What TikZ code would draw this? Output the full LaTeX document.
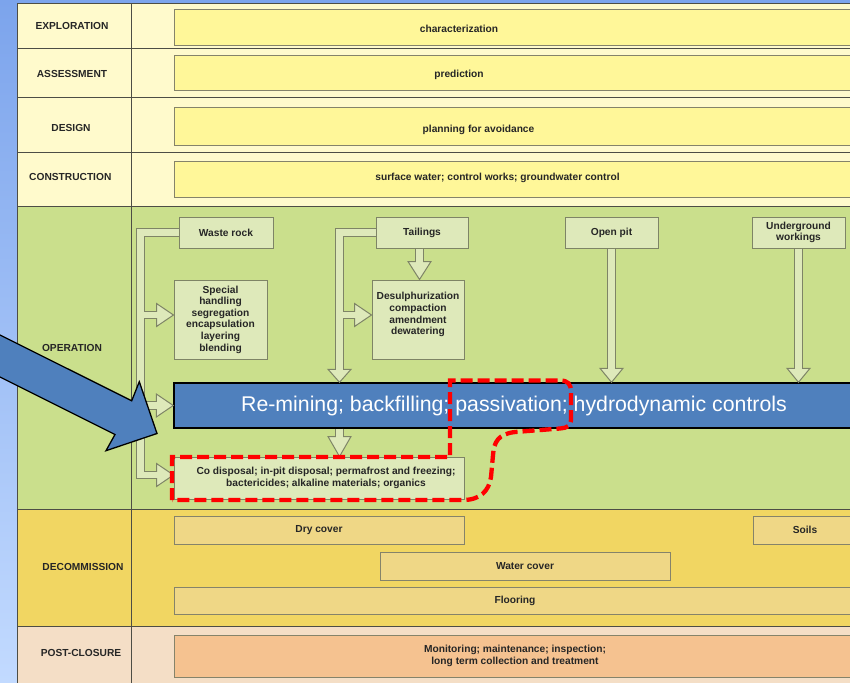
\documentclass[tikz,border=0pt]{standalone}
\usepackage{fontspec}
\setmainfont{Liberation Sans}
\usetikzlibrary{calc}

\definecolor{bgtop}{HTML}{7CA4EC}
\definecolor{bgbot}{HTML}{C2DAFF}
\definecolor{gridc}{HTML}{4D4D45}
\definecolor{rowy}{HTML}{FFFACC}
\definecolor{boxy}{HTML}{FFF799}
\definecolor{boxyline}{HTML}{85836A}
\definecolor{rowg}{HTML}{CADF8C}
\definecolor{boxg}{HTML}{DEE9BA}
\definecolor{boxgline}{HTML}{7E8466}
\definecolor{rowd}{HTML}{F1D662}
\definecolor{boxd}{HTML}{EFD786}
\definecolor{rowp}{HTML}{F4DEC6}
\definecolor{boxp}{HTML}{F5C290}
\definecolor{barblue}{HTML}{4F80BD}
\definecolor{txt}{HTML}{262626}

\tikzset{
  lbl/.style={font=\bfseries\fontsize{10.2}{12}\selectfont, text=txt, inner sep=0},
  boxtext/.style={font=\bfseries\fontsize{10.2}{11.6}\selectfont, text=txt, inner sep=0, align=center},
  boxbase/.style={draw, line width=1pt, inner sep=0, align=center, text=txt,
    font=\bfseries\fontsize{10.2}{11.6}\selectfont},
  ybox/.style={boxbase, fill=boxy, draw=boxyline},
  gbox/.style={boxbase, fill=boxg, draw=boxgline},
  dbox/.style={boxbase, fill=boxd, draw=boxyline},
  pbox/.style={boxbase, fill=boxp, draw=boxyline},
  barbox/.style={draw=black, line width=1.4pt, fill=barblue, text=white, inner sep=0,
    font=\fontsize{21.3}{25}\selectfont},
  ahead/.style={fill=boxg, draw=boxgline, line width=1pt, line join=miter},
  shaftline/.style={draw=boxgline, line width=8.6pt},
  shaftfill/.style={draw=boxg, line width=6.6pt},
  bigarrow/.style={fill=barblue, draw=black, line width=1.3pt, line join=miter},
  reddash/.style={draw=red, line width=4.3pt, dash pattern=on 12pt off 5pt},
}

% block arrow heads: tip position, pointing right / down
\newcommand{\rightheadat}[1]{\filldraw[ahead] ($(#1)+(-17,-11.5)$) -- (#1) -- ($(#1)+(-17,11.5)$) -- cycle;}
\newcommand{\downheadat}[2]{\filldraw[ahead] ($(#1)+(-11.5,-#2)$) -- (#1) -- ($(#1)+(11.5,-#2)$) -- cycle;}

\begin{document}
\begin{tikzpicture}[x=1pt,y=-1pt]
\useasboundingbox (0,0) rectangle (850,682);
\clip (0,0) rectangle (850,682);
\shade[top color=bgtop, bottom color=bgbot] (0,0) rectangle (850,682);

% phase rows
\fill[rowy] (17,4) rectangle (870,206);
\fill[rowg] (17,206) rectangle (870,509);
\fill[rowd] (17,509) rectangle (870,626);
\fill[rowp] (17,626) rectangle (870,690);
\draw[gridc, line width=1pt]
  (17,690) -- (17,4) -- (870,4)
  (17,49) -- (870,49) (17,98) -- (870,98) (17,152) -- (870,152)
  (17,206) -- (870,206) (17,509) -- (870,509) (17,626) -- (870,626)
  (131,4) -- (131,690);

% phase labels
\node[lbl] (lexp) at (72,26) {EXPLORATION};
\node[lbl] (lass) at (72,74) {ASSESSMENT};
\node[lbl] (ldes) at (71,127.7) {DESIGN};
\node[lbl] (lcon) at (70.3,176.7) {CONSTRUCTION};
\node[lbl] (lop) at (72,348.3) {OPERATION};
\node[lbl] (ldec) at (83,567) {DECOMMISSION};
\node[lbl] (lpost) at (81,653) {POST-CLOSURE};

% early phases
\node[ybox, minimum width=682pt, minimum height=35.5pt] (expl) at (515,27.75) {};
\node[boxtext] (texpl) at (459,28.5) {characterization};
\node[ybox, minimum width=682pt, minimum height=35pt] (asse) at (515,73.5) {};
\node[boxtext] (tasse) at (459,74.5) {prediction};
\node[ybox, minimum width=682pt, minimum height=37pt] (desi) at (515,126.5) {};
\node[boxtext] (tdesi) at (478.5,129.5) {planning for avoidance};
\node[ybox, minimum width=682pt, minimum height=36pt] (cons) at (515,179) {};
\node[boxtext] (tcons) at (497.5,178) {surface water; control works; groundwater control};

% operation
\node[gbox, minimum width=94pt, minimum height=31pt] (waste) at (226,232.5) {Waste rock};
\node[gbox, minimum width=92pt, minimum height=31pt] (tail) at (422,232.5) {Tailings};
\node[gbox, minimum width=93pt, minimum height=31pt] (pit) at (611.5,232.5) {Open pit};
\node[gbox, minimum width=93pt, minimum height=31pt] (under) at (798.5,232.5) {Underground\\workings};
\node[gbox, minimum width=93pt, minimum height=79pt] (special) at (220.5,319.5)
  {Special\\handling\\segregation\\encapsulation\\layering\\blending};
\node[gbox, minimum width=92pt, minimum height=79pt] (desulph) at (418,319.5)
  {Desulphurization\\compaction\\amendment\\dewatering\\\mbox{}};
\node[barbox, minimum width=680pt, minimum height=45pt] (bar) at (514,405.5)
  {Re-mining; backfilling; passivation; hydrodynamic controls};
\node[gbox, minimum width=290pt, minimum height=42pt] (co) at (319,478)
  {\hspace*{14pt}Co disposal; in-pit disposal; permafrost and freezing;\\\hspace*{14pt}bactericides; alkaline materials; organics};

% decommission and post-closure
\node[dbox, minimum width=290pt, minimum height=28pt] (dry) at (319,530) {Dry cover};
\node[dbox, minimum width=104pt, minimum height=28pt] (soils) at (805,530) {Soils};
\node[dbox, minimum width=290pt, minimum height=28pt] (water) at (525,566) {Water cover};
\node[dbox, minimum width=682pt, minimum height=27pt] (floor) at (515,600.5) {Flooring};
\node[pbox, minimum width=682pt, minimum height=42pt] (post) at (515,656)
  {Monitoring; maintenance; inspection;\\long term collection and treatment};

% block arrows
\coordinate (wx) at (140.5,0);
\coordinate (tx) at (339.5,0);
\coordinate (dx) at (419.5,0);
\coordinate (sptip) at ([yshift=4.5pt]special.west);
\coordinate (dstip) at ([yshift=4.5pt]desulph.west);
\coordinate (cotip) at ([yshift=3pt]co.west);
\coordinate (bartip) at (bar.west);
\path (dx |- desulph.north) coordinate (h1);
\path (tx |- bar.north) coordinate (h2);
\path (tx |- co.north) coordinate (h3);
\path (pit.south |- bar.north) coordinate (h4);
\path (under.south |- bar.north) coordinate (h5);

\rightheadat{sptip}
\rightheadat{bartip}
\rightheadat{cotip}
\rightheadat{dstip}
\downheadat{h1}{18}
\downheadat{h2}{13}
\downheadat{h3}{20}
\downheadat{h4}{14}
\downheadat{h5}{14}

% shaft outlines
\draw[shaftline] (waste.west) -- (wx |- waste.west) -- (wx |- cotip) -- ($(cotip)+(-17,0)$);
\draw[shaftline] (wx |- sptip) -- ($(sptip)+(-17,0)$);
\draw[shaftline] (wx |- bartip) -- ($(bartip)+(-17,0)$);
\draw[shaftline] (tail.west) -- (tx |- tail.west) -- ($(h2)+(0,-13)$);
\draw[shaftline] (tx |- dstip) -- ($(dstip)+(-17,0)$);
\draw[shaftline] (dx |- tail.south) -- ($(h1)+(0,-18)$);
\draw[shaftline] (tx |- bar.south) -- ($(h3)+(0,-20)$);
\draw[shaftline] (pit.south) -- ($(h4)+(0,-14)$);
\draw[shaftline] (under.south) -- ($(h5)+(0,-14)$);
% shaft interiors
\draw[shaftfill] (waste.west) -- (wx |- waste.west) -- (wx |- cotip) -- ($(cotip)+(-16,0)$);
\draw[shaftfill] (wx |- sptip) -- ($(sptip)+(-16,0)$);
\draw[shaftfill] (wx |- bartip) -- ($(bartip)+(-16,0)$);
\draw[shaftfill] (tail.west) -- (tx |- tail.west) -- ($(h2)+(0,-12)$);
\draw[shaftfill] (tx |- dstip) -- ($(dstip)+(-16,0)$);
\draw[shaftfill] (dx |- tail.south) -- ($(h1)+(0,-17)$);
\draw[shaftfill] (tx |- bar.south) -- ($(h3)+(0,-19)$);
\draw[shaftfill] (pit.south) -- ($(h4)+(0,-13)$);
\draw[shaftfill] (under.south) -- ($(h5)+(0,-13)$);

% pointer arrow
\filldraw[bigarrow] (-10,330) -- (131.7,400.8) -- (139.3,381.7) -- (157,433.5)
  -- (106,450.7) -- (115,434.5) -- (-10,372) -- cycle;

% highlighted region
\draw[reddash] (172,500) -- (172,457) -- (450,457) -- (450,380.5) -- (560,380.5)
  .. controls (568,380.5) and (571,384) .. (571,392) -- (571,419)
  .. controls (571,426) and (567,428) .. (560,428.5) -- (515,432)
  .. controls (498,434) and (494,442) .. (493,455) -- (491,477)
  .. controls (489,491) and (480,500) .. (463,500) -- cycle;
\end{tikzpicture}
\end{document}
